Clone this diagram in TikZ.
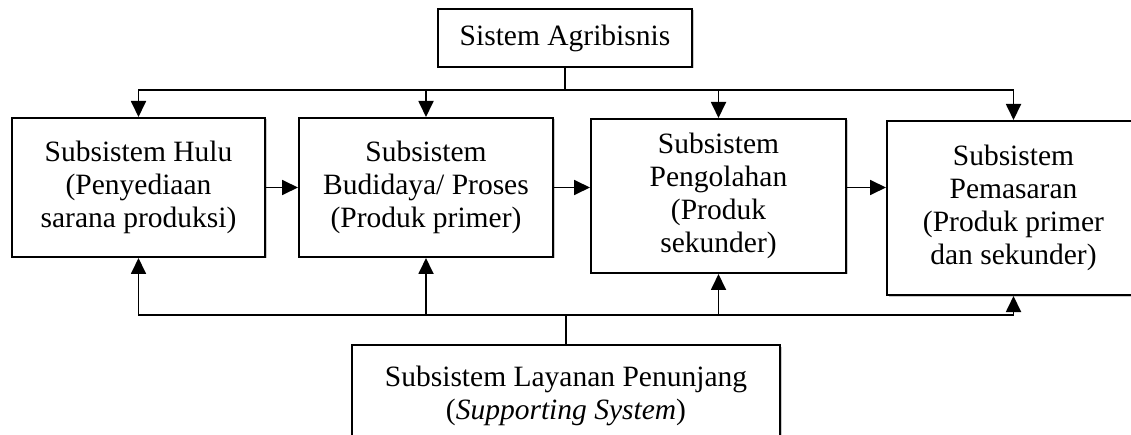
\documentclass[tikz,border=0pt]{standalone}
\usepackage{fontspec}
\setmainfont{Liberation Serif}
\usetikzlibrary{arrows.meta,shadows}
\tikzset{
  box/.style={draw, line width=2pt, fill=white, align=center, inner sep=0pt,
    font=\fontsize{29.5}{33}\selectfont,
    drop shadow={shadow xshift=1.5pt, shadow yshift=-1.5pt, opacity=0.35, fill=black!60}},
  conn/.style={line width=1.8pt},
  arr/.style={line width=1.8pt, -{Triangle[length=16pt, width=15pt]}}
}
\begin{document}
\begin{tikzpicture}[x=1pt,y=-1pt]
\useasboundingbox (0,0) rectangle (1131,435);
\node[box, minimum width=254pt, minimum height=58pt] (sys) at (565,38) {Sistem Agribisnis};
\node[box, minimum width=253pt, minimum height=139pt] (b1) at (138.5,187.5) {Subsistem Hulu\\(Penyediaan\\sarana produksi)};
\node[box, minimum width=254pt, minimum height=139pt] (b2) at (426,187.5) {Subsistem\\Budidaya/ Proses\\(Produk primer)};
\node[box, minimum width=255pt, minimum height=154pt] (b3) at (718.5,196) {Subsistem\\Pengolahan\\(Produk\\sekunder)};
\node[box, minimum width=253pt, minimum height=174pt] (b4) at (1013.5,208) {Subsistem\\Pemasaran\\(Produk primer\\dan sekunder)};
\node[box, minimum width=428pt, minimum height=102pt] (sup) at (566,396) {Subsistem Layanan Penunjang\\(\textit{Supporting System})};
% top distribution
\draw[conn] (sys.south) -- ++(0,22) coordinate (j);
\draw[arr] (j) -| (b1.north);
\draw[arr] (j) -| (b2.north);
\draw[arr] (j) -| (b3.north);
\draw[arr] (j) -| (b4.north);
% horizontal flow
\draw[arr] (b1.east) -- (b2.west);
\draw[arr] (b2.east) -- (b2.east -| b3.west);
\draw[arr] (b3.east |- b2.east) -- (b2.east -| b4.west);
% bottom support
\draw[conn] (sup.north) -- ++(0,-29) coordinate (k);
\draw[arr] (k) -| (b1.south);
\draw[arr] (k) -| (b2.south);
\draw[arr] (k) -| (b3.south);
\draw[arr] (k) -| (b4.south);
\end{tikzpicture}
\end{document}
